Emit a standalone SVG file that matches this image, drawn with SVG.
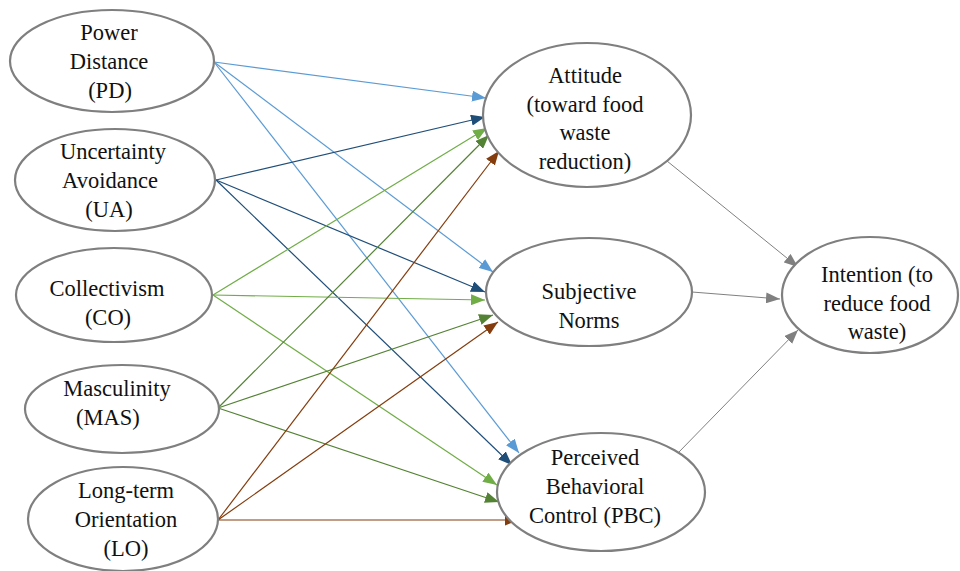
<svg xmlns="http://www.w3.org/2000/svg" width="960" height="571" viewBox="0 0 960 571">
<style>
  .node ellipse { fill: #ffffff; stroke: #7f7f7f; stroke-width: 2.2; }
  .node text { font-size: 22.5px; fill: #111111; text-anchor: middle; }
  .conn line { fill: none; stroke-width: 1.2; }
  .pd { stroke: #5b9bd5; }
  .ua { stroke: #1f4e79; }
  .co { stroke: #70ad47; }
  .mas { stroke: #548235; }
  .lo { stroke: #843c0c; }
  .gr { stroke: #808080; stroke-width: 1 !important; }
</style>
<defs>
  <marker id="aPD" markerUnits="userSpaceOnUse" markerWidth="14" markerHeight="11" refX="14" refY="5.5" orient="auto"><path d="M0,0 L14,5.5 L0,11 z" fill="#5b9bd5"/></marker>
  <marker id="aUA" markerUnits="userSpaceOnUse" markerWidth="14" markerHeight="11" refX="14" refY="5.5" orient="auto"><path d="M0,0 L14,5.5 L0,11 z" fill="#1f4e79"/></marker>
  <marker id="aCO" markerUnits="userSpaceOnUse" markerWidth="14" markerHeight="11" refX="14" refY="5.5" orient="auto"><path d="M0,0 L14,5.5 L0,11 z" fill="#70ad47"/></marker>
  <marker id="aMAS" markerUnits="userSpaceOnUse" markerWidth="14" markerHeight="11" refX="14" refY="5.5" orient="auto"><path d="M0,0 L14,5.5 L0,11 z" fill="#548235"/></marker>
  <marker id="aLO" markerUnits="userSpaceOnUse" markerWidth="14" markerHeight="11" refX="14" refY="5.5" orient="auto"><path d="M0,0 L14,5.5 L0,11 z" fill="#843c0c"/></marker>
  <marker id="aGR" markerUnits="userSpaceOnUse" markerWidth="14" markerHeight="11" refX="14" refY="5.5" orient="auto"><path d="M0,0 L14,5.5 L0,11 z" fill="#808080"/></marker>
</defs>

<g id="connectors" class="conn">
  <line class="pd" x1="214" y1="62" x2="486" y2="98" marker-end="url(#aPD)"/>
  <line class="pd" x1="214" y1="62" x2="493" y2="272" marker-end="url(#aPD)"/>
  <line class="pd" x1="214" y1="62" x2="519" y2="453" marker-end="url(#aPD)"/>
  <line class="ua" x1="216" y1="180" x2="485" y2="117" marker-end="url(#aUA)"/>
  <line class="ua" x1="216" y1="180" x2="485" y2="292" marker-end="url(#aUA)"/>
  <line class="ua" x1="216" y1="180" x2="512" y2="465" marker-end="url(#aUA)"/>
  <line class="co" x1="213" y1="295" x2="487" y2="128" marker-end="url(#aCO)"/>
  <line class="co" x1="213" y1="295" x2="485" y2="300" marker-end="url(#aCO)"/>
  <line class="co" x1="213" y1="295" x2="497" y2="485" marker-end="url(#aCO)"/>
  <line class="mas" x1="218" y1="408" x2="489" y2="135" marker-end="url(#aMAS)"/>
  <line class="mas" x1="218" y1="408" x2="493" y2="315" marker-end="url(#aMAS)"/>
  <line class="mas" x1="218" y1="408" x2="499" y2="502" marker-end="url(#aMAS)"/>
  <line class="lo" x1="218" y1="520" x2="499" y2="151" marker-end="url(#aLO)"/>
  <line class="lo" x1="218" y1="520" x2="498" y2="322" marker-end="url(#aLO)"/>
  <line class="lo" x1="218" y1="520" x2="519" y2="520" marker-end="url(#aLO)"/>
  <line class="gr" x1="667" y1="161" x2="798" y2="267" marker-end="url(#aGR)"/>
  <line class="gr" x1="692" y1="292" x2="780" y2="299" marker-end="url(#aGR)"/>
  <line class="gr" x1="678" y1="453" x2="798" y2="330" marker-end="url(#aGR)"/>
</g>

<g font-family="Liberation Serif, DejaVu Serif, serif">
<g id="PD" class="node">
  <ellipse cx="112" cy="61" rx="102" ry="51"/>
  <text x="109" y="40">Power</text>
  <text x="109" y="69">Distance</text>
  <text x="110" y="98">(PD)</text>
</g>
<g id="UA" class="node">
  <ellipse cx="115" cy="180" rx="100" ry="51"/>
  <text x="113" y="159">Uncertainty</text>
  <text x="110" y="188">Avoidance</text>
  <text x="109" y="217">(UA)</text>
</g>
<g id="CO" class="node">
  <ellipse cx="114" cy="295" rx="98" ry="47"/>
  <text x="107" y="296">Collectivism</text>
  <text x="108" y="325">(CO)</text>
</g>
<g id="MAS" class="node">
  <ellipse cx="122" cy="409" rx="97" ry="44"/>
  <text x="117" y="396">Masculinity</text>
  <text x="108" y="425">(MAS)</text>
</g>
<g id="LO" class="node">
  <ellipse cx="123" cy="519" rx="95" ry="52"/>
  <text x="126" y="498">Long-term</text>
  <text x="126" y="527">Orientation</text>
  <text x="126" y="556">(LO)</text>
</g>
<g id="ATT" class="node">
  <ellipse cx="587" cy="115" rx="104" ry="72"/>
  <text x="585" y="83">Attitude</text>
  <text x="585" y="112">(toward food</text>
  <text x="585" y="140">waste</text>
  <text x="585" y="169">reduction)</text>
</g>
<g id="SN" class="node">
  <ellipse cx="589" cy="292" rx="103" ry="54"/>
  <text x="589" y="299">Subjective</text>
  <text x="589" y="328">Norms</text>
</g>
<g id="PBC" class="node">
  <ellipse cx="601" cy="492" rx="104" ry="59"/>
  <text x="595" y="465">Perceived</text>
  <text x="595" y="494">Behavioral</text>
  <text x="595" y="523">Control (PBC)</text>
</g>
<g id="INT" class="node">
  <ellipse cx="870" cy="295" rx="88" ry="58"/>
  <text x="877" y="282">Intention (to</text>
  <text x="877" y="311">reduce food</text>
  <text x="877" y="339">waste)</text>
</g>
</g>
</svg>
